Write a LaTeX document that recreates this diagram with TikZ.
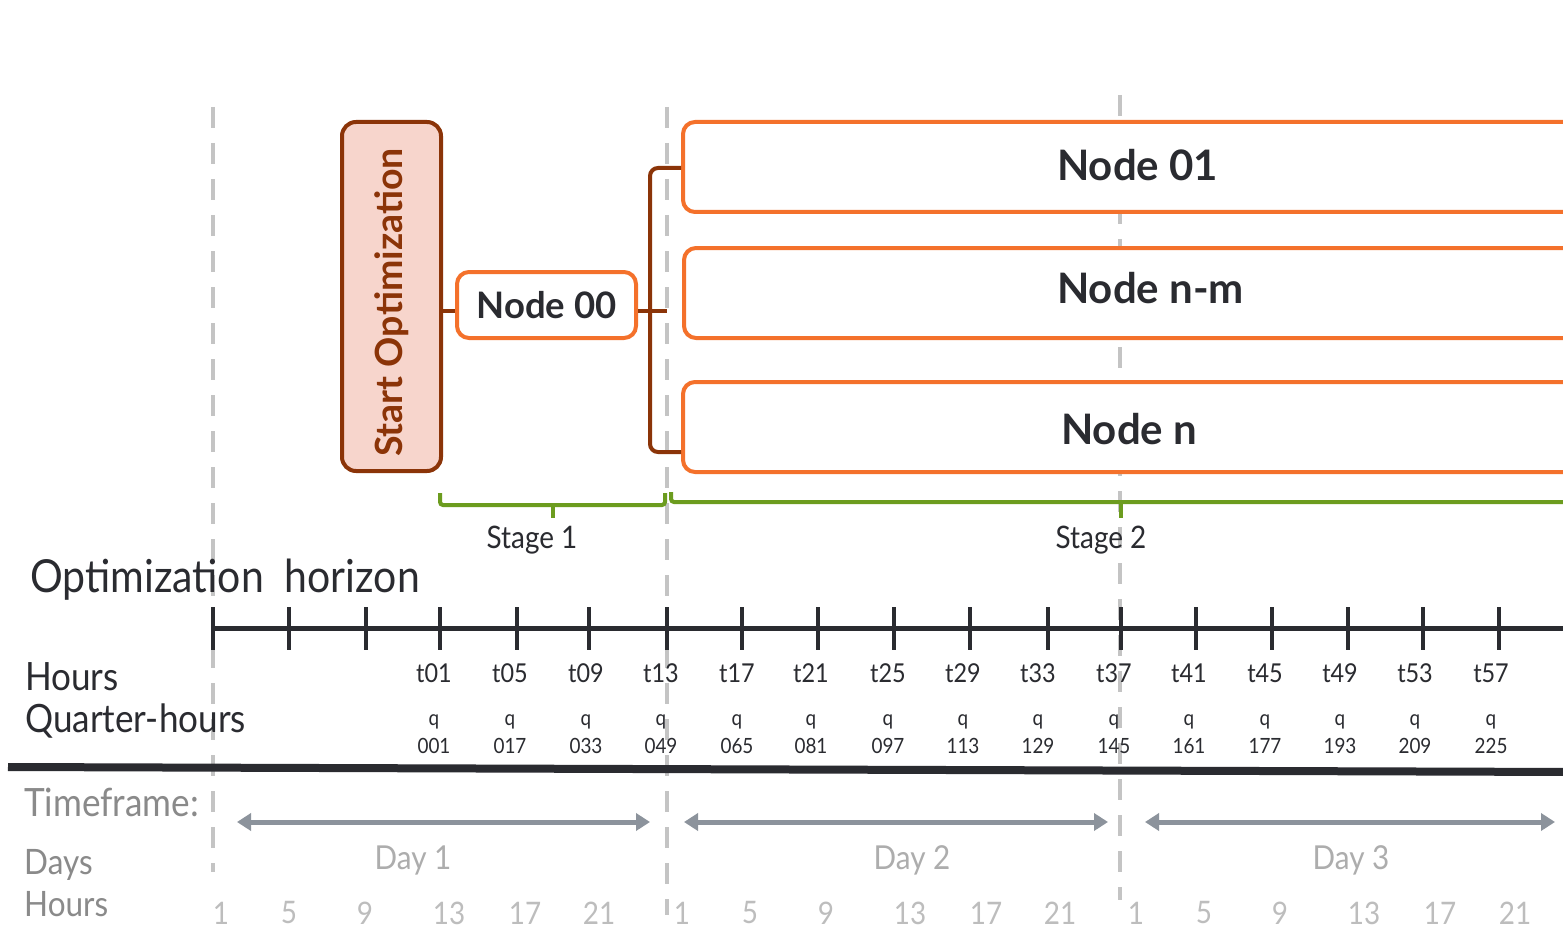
\documentclass[tikz,border=0pt]{standalone}
\usepackage{fontspec}
\setmainfont{Lato}
\newfontfamily\condfont{Lato}[FakeStretch=0.9]
\usetikzlibrary{arrows.meta}
\definecolor{orng}{HTML}{F4712B}
\definecolor{brwn}{HTML}{8B3408}
\definecolor{salmon}{HTML}{F7D5CC}
\definecolor{grn}{HTML}{6C9C1F}
\definecolor{ink}{HTML}{2A2B30}
\definecolor{dashgray}{HTML}{C4C4C4}
\definecolor{arrgray}{HTML}{8C939C}
\definecolor{tfgray}{HTML}{8A8A8A}
\definecolor{daygray}{HTML}{ADADAD}
\definecolor{hrgray}{HTML}{BDBDBD}
\tikzset{
  vdash/.style={draw=dashgray, line width=4.5pt, dash pattern=on 21pt off 15pt},
  startbox/.style={draw=brwn, fill=salmon, line width=4pt, rounded corners=14pt,
    rotate=90, minimum width=349pt, minimum height=99pt, inner sep=0pt,
    text=brwn, font=\fontsize{37.5}{40}\selectfont\bfseries},
  smallbox/.style={draw=orng, fill=white, line width=4pt, rounded corners=12pt,
    minimum width=179pt, minimum height=66pt, inner sep=0pt,
    text=ink, font=\fontsize{36.5}{40}\selectfont\bfseries},
  bigbox/.style={draw=orng, fill=white, line width=4pt, rounded corners=12pt,
    minimum width=900pt, minimum height=90pt, inner sep=0pt, anchor=west},
  nodelabel/.style={text=ink, font=\fontsize{42}{46}\selectfont\bfseries, anchor=west, inner sep=0pt},
  brace/.style={draw=brwn, line width=4pt, rounded corners=8pt},
  stagebr/.style={draw=grn, line width=4pt, rounded corners=3pt},
  stagelabel/.style={text=ink, font=\condfont\fontsize{31}{36}\selectfont, inner sep=0pt},
  bigtitle/.style={text=ink, font=\condfont\fontsize{45.5}{50}\selectfont, anchor=west, inner sep=0pt},
  rowtitle/.style={text=ink, font=\condfont\fontsize{39}{44}\selectfont, anchor=west, inner sep=0pt},
  axis/.style={draw=ink, line width=5pt},
  tick/.style={draw=ink, line width=4.5pt},
  tlabel/.style={text=ink, font=\condfont\fontsize{26}{30}\selectfont, inner sep=0pt},
  qlabel/.style={text=ink, font=\condfont\fontsize{21}{25}\selectfont, inner sep=0pt},
  garrow/.style={draw=arrgray, line width=5pt, {Triangle[length=14pt,width=17pt]}-{Triangle[length=14pt,width=17pt]}},
  tftitle/.style={text=tfgray, font=\condfont\fontsize{39}{44}\selectfont, anchor=west, inner sep=0pt},
  sidetitle/.style={text=tfgray, font=\condfont\fontsize{35}{40}\selectfont, anchor=west, inner sep=0pt},
  daylabel/.style={text=daygray, font=\condfont\fontsize{33}{38}\selectfont, inner sep=0pt},
  hrlabel/.style={text=hrgray, font=\condfont\fontsize{31}{36}\selectfont, inner sep=0pt},
}
\begin{document}
\begin{tikzpicture}[x=1pt,y=-1pt]
\useasboundingbox (0,0) rectangle (1563,928);
\fill[white] (0,0) rectangle (1563,928);

% vertical dashed separators
\draw[vdash] (213,107) -- (213,872);
\draw[vdash] (667,107) -- (667,915);
\draw[vdash] (1120,95) -- (1120,900);

% boxes
\node[startbox] (start) at (391.5,296.5) {Start Optimization\kern12pt\relax};
\node[smallbox] (n00) at (546.5,305) {Node 00};
\node[bigbox] (n01) at (681,167) {};
\node[bigbox] (nnm) at (682,293) {};
\node[bigbox] (nn) at (681,427) {};
\node[nodelabel] (l01) at (1057,165) {Node 01};
\node[nodelabel] (lnm) at (1057,288) {Node n-m};
\node[nodelabel] (lnn) at (1061,429) {Node n};

% brown connectors
\coordinate (bt) at (681,168);
\coordinate (bb) at (681,452);
\coordinate (stub) at (667,311);
\draw[brace] ([yshift=-6pt]n00.west) -- ([yshift=-6pt]n00.west -| start.south);
\draw[brace] (bt) -- (650,168) -- (650,452) -- (bb);
\draw[brace] ([yshift=-6pt]n00.east) -- (stub);

% stage brackets
\coordinate (s1a) at (440,493);
\coordinate (s1b) at (665,493);
\coordinate (s2a) at (671,492);
\draw[stagebr] (s1a) -- (440,505) -- (665,505) -- (s1b);
\draw[stagebr] (553,505) -- (553,518);
\draw[stagebr] (s2a) -- (671,502) -- (1575,502);
\draw[stagebr] (1121,502) -- (1121,518);
\node[stagelabel] (st1) at (532,540) {Stage 1};
\node[stagelabel] (st2) at (1101,540) {Stage 2};

% optimization horizon
\node[bigtitle] (oh) at (30,580) {Optimization\ \ horizon};
\draw[axis] (211,628) -- (1575,628);
\foreach \x in {213,289,366,440,517,589,667,742,818,894,970,1048,1121,1196,1272,1348,1423,1499}
  \draw[tick] (\x,607) -- (\x,650);
\node[rowtitle] (hrs) at (25,677) {Hours};
\node[rowtitle] (qh) at (25,721) {Quarter-hours};
\foreach \x/\t/\q in {434/01/001,510/05/017,586/09/033,661/13/049,737/17/065,811/21/081,888/25/097,963/29/113,1038/33/129,1114/37/145,1189/41/161,1265/45/177,1340/49/193,1415/53/209,1491/57/225}{
  \node[tlabel] at (\x,673) {t\t};
  \node[qlabel] at (\x,722) {q};
  \node[qlabel] at (\x,746) {\q};
}

% separator line
\draw[draw=ink, line width=8pt] (8,767) -- (1575,772);

% timeframe
\node[tftitle] (tf) at (24,802) {Timeframe:};
\node[sidetitle] (dys) at (24,865) {Days};
\node[sidetitle] (hrs2) at (24,904) {Hours};
\coordinate (a1) at (237,822); \coordinate (b1) at (650,822);
\coordinate (a2) at (684,822); \coordinate (b2) at (1108,822);
\coordinate (a3) at (1145,822); \coordinate (b3) at (1555,822);
\draw[garrow] (a1) -- (b1);
\draw[garrow] (a2) -- (b2);
\draw[garrow] (a3) -- (b3);
\node[daylabel] (d1) at (413,860) {Day 1};
\node[daylabel] (d2) at (912,860) {Day 2};
\node[daylabel] (d3) at (1351,860) {Day 3};
\foreach \x/\h in {221/1,289/5,365/9,449/13,525/17,599/21,682/1,750/5,826/9,910/13,986/17,1060/21,1136/1,1204/5,1280/9,1364/13,1440/17,1515/21}
  \node[hrlabel] at (\x,913) {\h};
\end{tikzpicture}
\end{document}
